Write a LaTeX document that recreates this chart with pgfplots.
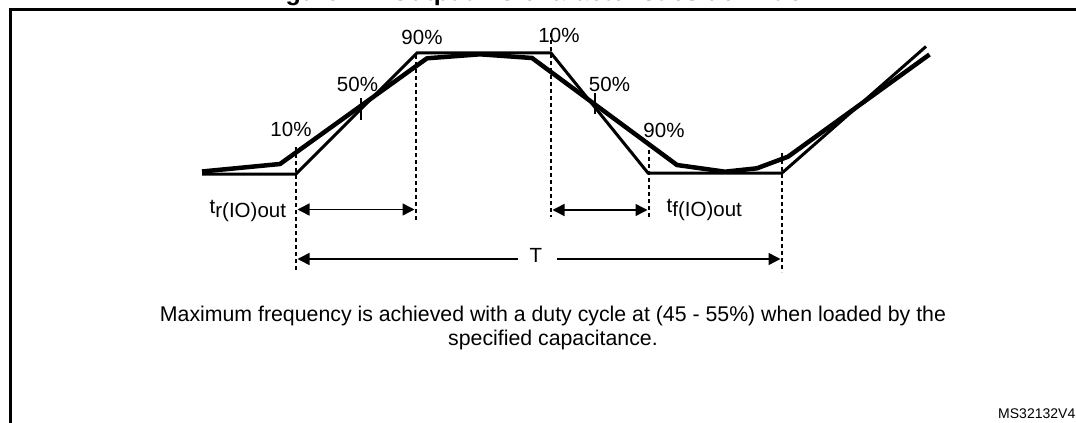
\documentclass[border=0pt]{standalone}
\usepackage{pgfplots}
\pgfplotsset{compat=1.18}
\usepackage{fontspec}
\setmainfont{Liberation Sans}
\usetikzlibrary{arrows.meta}
\tikzset{lbl/.style={inner sep=0pt, font=\fontsize{20.5bp}{24bp}\selectfont},
         captxt/.style={inner sep=0pt, font=\fontsize{21.3bp}{25bp}\selectfont}}
\begin{document}
\begin{tikzpicture}
\useasboundingbox (0,0) rectangle (1076bp,423bp);
\clip (0,0) rectangle (1076bp,423bp);
\begin{axis}[at={(0,0)}, anchor=south west,
  width=1076bp, height=423bp, scale only axis,
  xmin=0, xmax=1076, ymin=0, ymax=423, y dir=reverse,
  axis lines=none, clip=false]
% frame
\addplot[black, line width=2.7bp, mark=none] coordinates {(10.5,430) (10.5,9.3) (1080,9.3)};
% ideal waveform
\addplot[black, line width=3bp, mark=none] coordinates {
 (202,174) (296,174) (417,53) (551,53) (648,173) (782,173) (926,46.5)};
% real waveform
\addplot[black, line width=4.5bp, mark=none, line join=round] coordinates {
 (202,171.5) (280,164) (427,58.3) (480,54.3) (532,58) (677,165) (725,171.7) (757,168.3) (788,156.7) (929.5,54.5)};
% dashed markers
\addplot[black, line width=1.5bp, dash pattern=on 4bp off 3bp, mark=none] coordinates {(296,147) (296,271)};
\addplot[black, line width=1.5bp, dash pattern=on 4bp off 3bp, mark=none] coordinates {(416,55) (416,222)};
\addplot[black, line width=1.5bp, dash pattern=on 4bp off 3bp, mark=none] coordinates {(551,33) (551,217)};
\addplot[black, line width=1.5bp, dash pattern=on 4bp off 3bp, mark=none] coordinates {(649,150) (649,217)};
\addplot[black, line width=1.5bp, dash pattern=on 4bp off 3bp, mark=none] coordinates {(782,153) (782,272)};
% 50% ticks
\addplot[black, line width=1.5bp, mark=none] coordinates {(361,98) (361,120)};
\addplot[black, line width=1.5bp, mark=none] coordinates {(595,93) (595,114)};
% arrows
\addplot[black, line width=1.5bp, mark=none, {Triangle[length=12bp,width=12bp]}-{Triangle[length=12bp,width=12bp]}] coordinates {(297.5,209.5) (414.5,209.5)};
\addplot[black, line width=1.5bp, mark=none, {Triangle[length=12bp,width=12bp]}-{Triangle[length=12bp,width=12bp]}] coordinates {(552.5,210) (647.5,210)};
\addplot[black, line width=1.5bp, mark=none, {Triangle[length=12bp,width=12bp]}-] coordinates {(297.5,259) (518,259)};
\addplot[black, line width=1.5bp, mark=none, -{Triangle[length=12bp,width=12bp]}] coordinates {(557,259) (780.5,259)};
% labels
\node[lbl] at (291,129) {10\%};
\node[lbl] at (357.5,84) {50\%};
\node[lbl] at (422,37.5) {90\%};
\node[lbl] at (559,35) {10\%};
\node[lbl] at (609.5,84) {50\%};
\node[lbl] at (664,130) {90\%};
\node[lbl] at (536,255.5) {T};
\node[lbl, anchor=base west] at (209.5,213) {t\raisebox{-4.5bp}{r(IO)out}};
\node[lbl, anchor=base west] at (666.5,212) {t\raisebox{-4.5bp}{f(IO)out}};
\node[captxt, anchor=base] at (553,321) {Maximum frequency is achieved with a duty cycle at (45 - 55\%) when loaded by the};
\node[captxt, anchor=base] at (553,345) {specified capacitance.};
\node[inner sep=0pt, anchor=base east, font=\fontsize{14bp}{17bp}\selectfont] at (1075.5,418) {MS32132V4};
\node[inner sep=0pt, anchor=base, font=\bfseries\fontsize{25bp}{30bp}\selectfont] at (541,1) {Figure 27. Output AC characteristics definition};
\end{axis}
\end{tikzpicture}
\end{document}
